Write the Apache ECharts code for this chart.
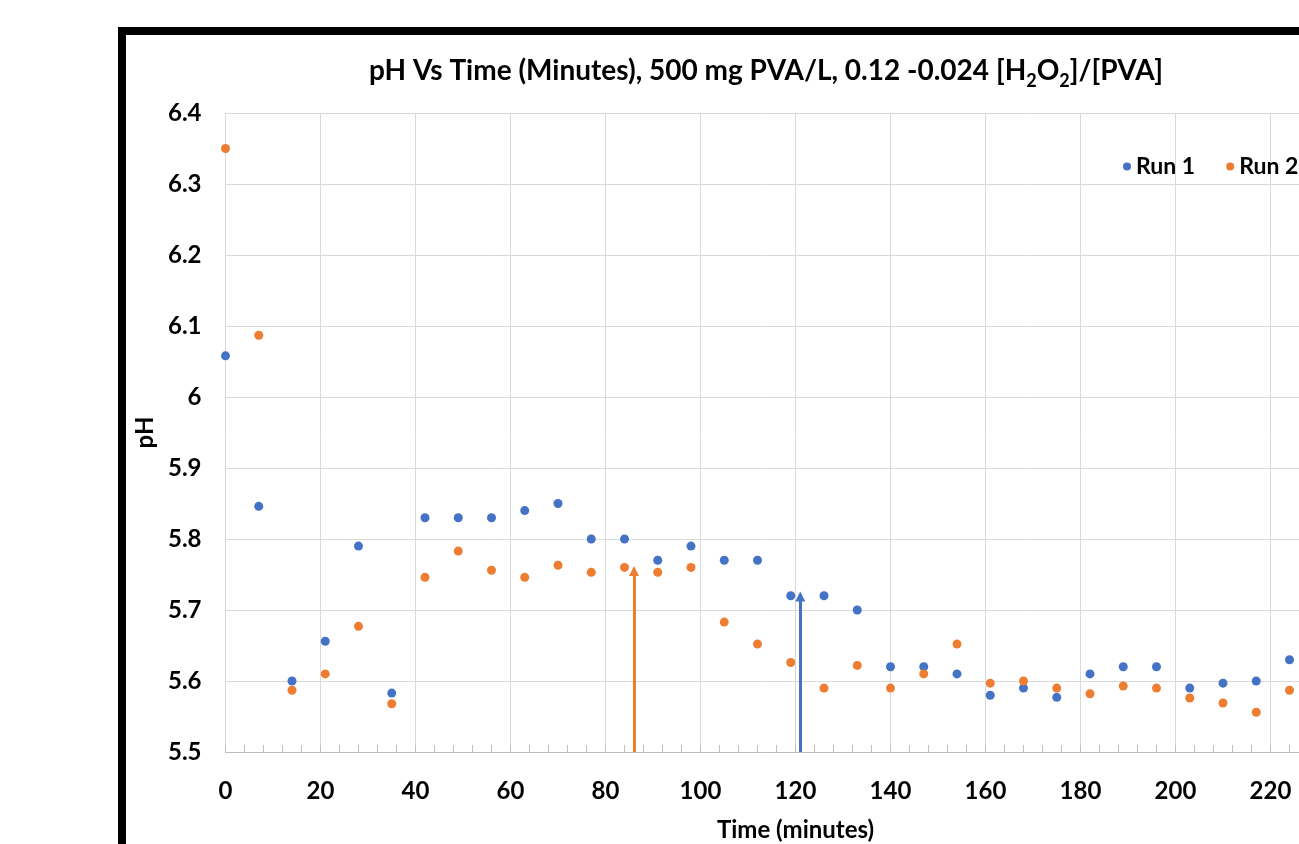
<!DOCTYPE html>
<html>
<head>
<meta charset="utf-8">
<script src="https://cdn.jsdelivr.net/npm/echarts@6/dist/echarts.min.js"></script>
<style>
  html, body { margin: 0; padding: 0; background: #fff; }
  #chart { width: 1299px; height: 844px; }
</style>
</head>
<body>
<div id="chart"></div>
<script>
// time in minutes, sampled every 7 minutes
var times = [0, 7, 14, 21, 28, 35, 42, 49, 56, 63, 70, 77, 84, 91, 98, 105, 112,
             119, 126, 133, 140, 147, 154, 161, 168, 175, 182, 189, 196, 203, 210, 217, 224];
var run1 = [6.058, 5.846, 5.60, 5.656, 5.79, 5.583, 5.83, 5.83, 5.83, 5.84, 5.85, 5.80, 5.80,
            5.77, 5.79, 5.77, 5.77, 5.72, 5.72, 5.70, 5.62, 5.62, 5.61, 5.58, 5.59, 5.577,
            5.61, 5.62, 5.62, 5.59, 5.597, 5.60, 5.63];
var run2 = [6.35, 6.087, 5.587, 5.61, 5.677, 5.568, 5.746, 5.783, 5.756, 5.746, 5.763, 5.753, 5.76,
            5.753, 5.76, 5.683, 5.652, 5.626, 5.59, 5.622, 5.59, 5.61, 5.652, 5.597, 5.60, 5.59,
            5.582, 5.593, 5.59, 5.576, 5.569, 5.556, 5.587];
// arrows: [time, tip pH]
var arrow1 = [121, 5.719];
var arrow2 = [86, 5.755];

var blue = '#4472C4';
var orange = '#ED7D31';
var font = 'Lato';

function pairs(xs, ys) {
    var out = [];
    for (var i = 0; i < xs.length; i++) out.push([xs[i], ys[i]]);
    return out;
}
function arrow(a) {
    return [[{coord: [a[0], 5.5], symbol: 'none'}, {coord: [a[0], a[1]], symbol: 'triangle'}]];
}

var myChart = echarts.init(document.getElementById('chart'));
var option = {
    backgroundColor: '#fff',
    animation: false,
    title: {
        text: 'pH Vs Time (Minutes), 500 mg PVA/L, 0.12 -0.024 [H{sub|2}O{sub|2}]/[PVA]',
        left: 761,
        textAlign: 'center',
        top: 47,
        textStyle: {
            fontFamily: font, fontWeight: 'bold', fontSize: 28, color: '#000', lineHeight: 38,
            rich: {
                sub: {fontFamily: font, fontWeight: 'bold', fontSize: 18, color: '#000',
                      verticalAlign: 'bottom', lineHeight: 38, padding: [16, 0, 0, 0]}
            }
        }
    },
    graphic: [{
        type: 'rect',
        shape: {x: 122, y: 31, width: 1400, height: 1000},
        style: {fill: 'none', stroke: '#000', lineWidth: 8},
        z: 100
    }],
    legend: {
        data: ['Run 1', 'Run 2'],
        orient: 'horizontal',
        left: 1118,
        top: 150,
        width: 400,
        icon: 'circle',
        itemWidth: 8,
        itemHeight: 8,
        itemGap: 31,
        itemTextGap: 11,
        textStyle: {fontFamily: font, fontWeight: 'bold', fontSize: 23, color: '#000'}
    },
    grid: {left: 225.5, top: 113, bottom: 92, right: -66.5, outerBoundsMode: 'none'},
    xAxis: {
        type: 'value',
        min: 0, max: 240, interval: 20,
        name: 'Time (minutes)',
        nameLocation: 'middle',
        nameGap: 66,
        nameTextStyle: {fontFamily: font, fontWeight: 'bold', fontSize: 24, color: '#000'},
        axisLine: {show: true, lineStyle: {color: '#bfbfbf', width: 1}},
        axisTick: {show: true, inside: true, length: 7, lineStyle: {color: '#bfbfbf'}},
        minorTick: {show: true, splitNumber: 5, length: 7, lineStyle: {color: '#bfbfbf'}},
        axisLabel: {fontFamily: font, fontWeight: 'bold', fontSize: 24, color: '#000', margin: 27},
        splitLine: {show: true, lineStyle: {color: '#d9d9d9'}}
    },
    yAxis: {
        type: 'value',
        min: 5.5, max: 6.4, interval: 0.1,
        name: 'pH',
        nameLocation: 'middle',
        nameGap: 68,
        nameRotate: 90,
        nameTextStyle: {fontFamily: font, fontWeight: 'bold', fontSize: 24, color: '#000'},
        axisLine: {show: false},
        axisTick: {show: false},
        axisLabel: {fontFamily: font, fontWeight: 'bold', fontSize: 24, color: '#000', margin: 24},
        splitLine: {show: true, lineStyle: {color: '#d9d9d9'}}
    },
    series: [
        {
            name: 'Run 1', type: 'scatter', symbolSize: 9,
            itemStyle: {color: blue, opacity: 1},
            data: pairs(times, run1),
            markLine: {
                silent: true, symbolSize: [10, 10], label: {show: false},
                lineStyle: {color: blue, width: 3, type: 'solid', opacity: 1},
                data: arrow(arrow1)
            }
        },
        {
            name: 'Run 2', type: 'scatter', symbolSize: 9,
            itemStyle: {color: orange, opacity: 1},
            data: pairs(times, run2),
            markLine: {
                silent: true, symbolSize: [10, 10], label: {show: false},
                lineStyle: {color: orange, width: 3, type: 'solid', opacity: 1},
                data: arrow(arrow2)
            }
        }
    ]
};
myChart.setOption(option);
</script>
</body>
</html>
